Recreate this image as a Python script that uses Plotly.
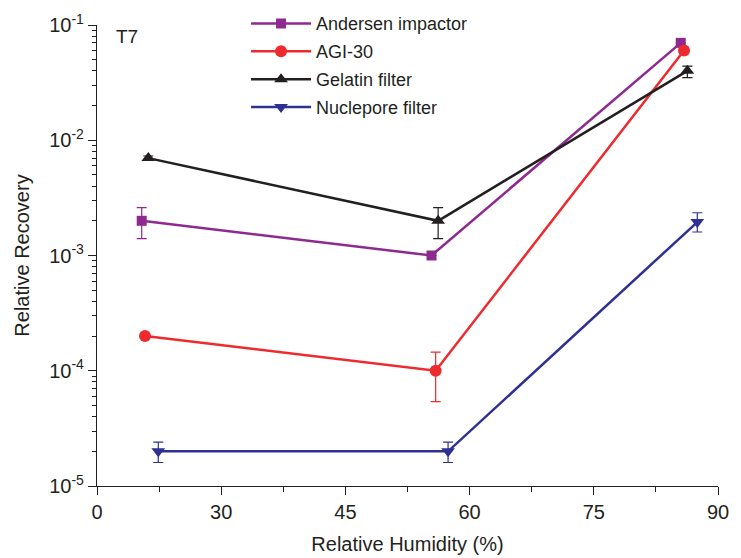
import plotly.graph_objects as go

# positions on the (relabelled) humidity axis
andersen_x = [20.4, 55.4, 85.5]
agi_x = [20.8, 55.9, 85.9]
gelatin_x = [21.2, 56.2, 86.3]
nuclepore_x = [22.4, 57.4, 87.5]

andersen_y = [2.0e-3, 1.0e-3, 0.070]
andersen_up = [0.6e-3, 0, 0]
andersen_dn = [0.6e-3, 0, 0]

agi_y = [2.0e-4, 1.0e-4, 0.060]
agi_up = [0, 0.45e-4, 0]
agi_dn = [0, 0.46e-4, 0]

gelatin_y = [7.0e-3, 2.0e-3, 0.040]
gelatin_up = [0.3e-3, 0.6e-3, 0.004]
gelatin_dn = [0.3e-3, 0.6e-3, 0.005]

nuclepore_y = [2.0e-5, 2.0e-5, 1.95e-3]
nuclepore_up = [0.4e-5, 0.4e-5, 0.4e-3]
nuclepore_dn = [0.4e-5, 0.4e-5, 0.35e-3]

x_tickvals = [15, 30, 45, 60, 75, 90]
x_ticktext = ["0", "30", "45", "60", "75", "90"]
x_minor = [22.5, 37.5, 52.5, 67.5, 82.5]

y_tickvals = [1e-5, 1e-4, 1e-3, 1e-2, 1e-1]
y_ticktext = ["10<sup>-5</sup>", "10<sup>-4</sup>", "10<sup>-3</sup>",
              "10<sup>-2</sup>", "10<sup>-1</sup>"]
y_minor = [m * 10.0 ** e for e in range(-5, -1) for m in range(2, 10)]

series = [
    ("Andersen impactor", andersen_x, andersen_y, andersen_up, andersen_dn,
     "#8E2A8F", "square", 10),
    ("AGI-30", agi_x, agi_y, agi_up, agi_dn, "#EE2A2E", "circle", 12),
    ("Gelatin filter", gelatin_x, gelatin_y, gelatin_up, gelatin_dn,
     "#231F20", "triangle-up", 12),
    ("Nuclepore filter", nuclepore_x, nuclepore_y, nuclepore_up, nuclepore_dn,
     "#2E3192", "triangle-down", 12),
]

fig = go.Figure()

for name, xs, ys, up, dn, color, symbol, size in series:
    fig.add_trace(
        go.Scatter(
            x=xs,
            y=ys,
            name=name,
            legendgroup=name,
            mode="lines+markers",
            line=dict(color=color, width=2.5),
            marker=dict(color=color, symbol=symbol, size=size),
            error_y=dict(type="data", symmetric=False, array=up,
                         arrayminus=dn, color=color, thickness=1.2, width=5),
        )
    )

fig.add_annotation(
    text="T7", x=0.027, y=1.003, xref="paper", yref="paper",
    xanchor="left", yanchor="top", showarrow=False,
    font=dict(size=19, color="#231F20"),
)

axis_font = dict(family="Liberation Sans, Arial", size=20, color="#231F20")

# page body has an 8px margin, so the figure is a bit smaller than the window
fig.update_layout(
    width=733,
    height=550,
    margin=dict(l=89, r=23, t=17, b=72, autoexpand=False),
    paper_bgcolor="white",
    plot_bgcolor="white",
    font=dict(family="Liberation Sans, Arial", color="#231F20"),
    showlegend=True,
    legend=dict(
        x=0.24, y=1.043, xanchor="left", yanchor="top",
        font=dict(size=18, color="#231F20"),
        bgcolor="rgba(0,0,0,0)",
        itemwidth=60,
        tracegroupgap=1.5,
    ),
    xaxis=dict(
        range=[15, 90],
        tickvals=x_tickvals,
        ticktext=x_ticktext,
        ticks="outside",
        ticklen=8,
        tickcolor="#231F20",
        showline=True,
        linecolor="#231F20",
        linewidth=1.2,
        showgrid=False,
        zeroline=False,
        automargin=False,
        tickfont=axis_font,
        title=dict(text="Relative Humidity (%)", font=axis_font, standoff=14),
        minor=dict(tickvals=x_minor, ticks="outside", ticklen=5,
                   tickcolor="#231F20", showgrid=False),
    ),
    yaxis=dict(
        type="log",
        range=[-5, -1],
        tickvals=y_tickvals,
        ticktext=y_ticktext,
        ticks="outside",
        ticklen=8,
        tickcolor="#231F20",
        showline=True,
        linecolor="#231F20",
        linewidth=1.2,
        showgrid=False,
        zeroline=False,
        automargin=False,
        tickfont=axis_font,
        title=dict(text="Relative Recovery", font=axis_font, standoff=14),
        minor=dict(tickvals=y_minor, ticks="outside", ticklen=4,
                   tickcolor="#231F20", showgrid=False),
    ),
)

fig.write_html("out.html")
